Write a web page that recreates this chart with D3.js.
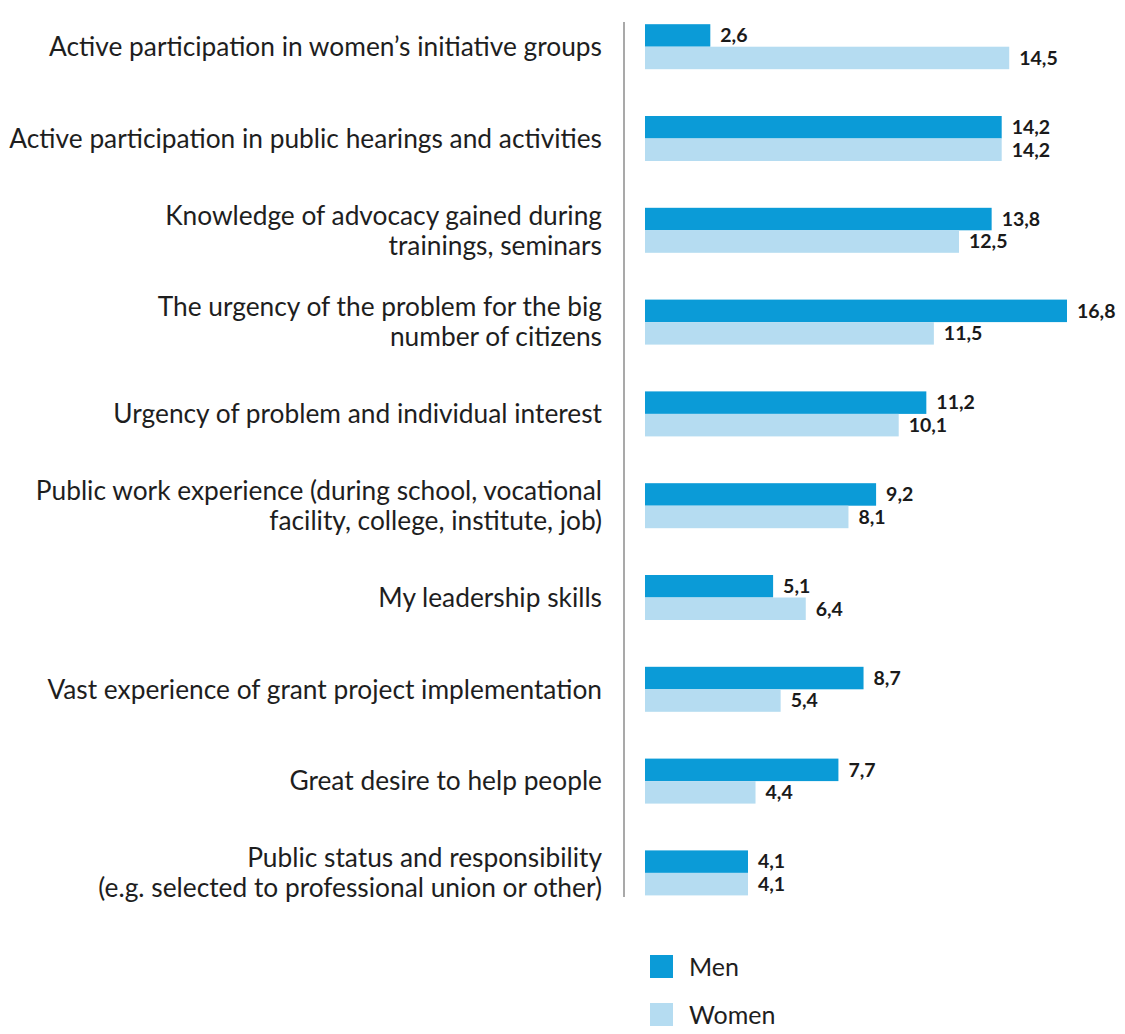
<!DOCTYPE html>
<html><head><meta charset="utf-8">
<script src="https://cdn.jsdelivr.net/npm/d3@7"></script>
<style>body{margin:0;background:#fff}</style>
</head><body>
<svg id="c" width="1125" height="1034"></svg>
<script>
const categories = [
  ["Active participation in women’s initiative groups"],
  ["Active participation in public hearings and activities"],
  ["Knowledge of advocacy gained during", "trainings, seminars"],
  ["The urgency of the problem for the big", "number of citizens"],
  ["Urgency of problem and individual interest"],
  ["Public work experience (during school, vocational", "facility, college, institute, job)"],
  ["My leadership skills"],
  ["Vast experience of grant project implementation"],
  ["Great desire to help people"],
  ["Public status and responsibility", "(e.g. selected to professional union or other)"]
];
const seriesNames = ["Men", "Women"];
const men =   [2.6, 14.2, 13.8, 16.8, 11.2, 9.2, 5.1, 8.7, 7.7, 4.1];
const women = [14.5, 14.2, 12.5, 11.5, 10.1, 8.1, 6.4, 5.4, 4.4, 4.1];
const colors = {Men: "#0b9bd7", Women: "#b5dcf1"};

const svg = d3.select("#c");
const font = "Lato, 'Open Sans', sans-serif";
const keys = categories.map((d, i) => "c" + i);
const y = d3.scaleBand().domain(keys).range([0.8, 918.8]).padding(0);
const x = d3.scaleLinear().domain([0, 16.8]).range([645, 1067]);
const ys = d3.scaleBand().domain(seriesNames).range([-22.5, 22.5]).padding(0);
const fmt = v => d3.format(".1f")(v).replace(".", ",");

const data = categories.map((c, i) => ({key: keys[i], lines: c, Men: men[i], Women: women[i]}));

// category labels
const lab = svg.append("g");
data.forEach(d => {
  const cy = y(d.key) + y.bandwidth() / 2;
  const n = d.lines.length;
  d.lines.forEach((t, j) => {
    lab.append("text")
      .attr("x", 602)
      .attr("y", cy + (j - (n - 1) / 2) * 30)
      .attr("dy", "0.35em")
      .attr("text-anchor", "end")
      .attr("font-family", font)
      .attr("font-size", 26.3)
      .attr("fill", "#1e1e1e")
      .text(t);
  });
});

// axis line
svg.append("line").attr("x1", 624).attr("x2", 624).attr("y1", 22).attr("y2", 897)
  .attr("stroke", "#8c8c8c").attr("stroke-width", 1.5);

// bars
const g = svg.append("g");
data.forEach(d => {
  const cy = y(d.key) + y.bandwidth() / 2;
  seriesNames.forEach(s => {
    g.append("rect")
      .attr("x", x(0))
      .attr("y", cy + ys(s))
      .attr("width", x(d[s]) - x(0))
      .attr("height", ys.bandwidth())
      .attr("fill", colors[s]);
    g.append("text")
      .attr("x", x(d[s]) + 10)
      .attr("y", cy + ys(s) + ys.bandwidth() / 2)
      .attr("dy", "0.35em")
      .attr("font-family", font)
      .attr("font-weight", "bold")
      .attr("font-size", 19.5)
      .attr("fill", "#1a1a1a")
      .text(fmt(d[s]));
  });
});

// legend
const leg = svg.append("g");
seriesNames.forEach((s, i) => {
  const ly = 955 + i * 48;
  leg.append("rect").attr("x", 650).attr("y", ly).attr("width", 23).attr("height", 23).attr("fill", colors[s]);
  leg.append("text").attr("x", 689).attr("y", ly + 12).attr("dy", "0.35em")
    .attr("font-family", font).attr("font-size", 25).attr("fill", "#1e1e1e").text(s);
});
</script>
</body></html>
